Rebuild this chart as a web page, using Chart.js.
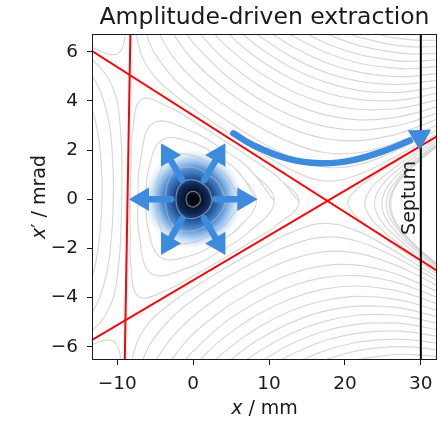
<!DOCTYPE html>
<html>
<head>
<meta charset="utf-8">
<script src="https://cdn.jsdelivr.net/npm/chart.js@4.4.1/dist/chart.umd.min.js"></script>
<style>
  html, body { margin: 0; padding: 0; background: #fff; }
</style>
</head>
<body>
<canvas id="extractionChart" width="440" height="421"></canvas>
<script>
// axis ranges and ticks
const xRange = [-13.2, 32];
const yRange = [-6.5, 6.68];
const xTicks = [-10, 0, 10, 20, 30];
const xTickLabels = ['\u221210', '0', '10', '20', '30'];
const yTicks = [-6, -4, -2, 0, 2, 4, 6];
const yTickLabels = ['\u22126', '\u22124', '\u22122', '0', '2', '4', '6'];

// separatrix (red) and septum (black)
const separatrixLeft = [[-8.26, 7], [-9.04, -7]];
const separatrixUpper = [[-14, 6.16], [33, -3.08]];
const separatrixLower = [[-14, -5.85], [33, 2.72]];
const septum = [[30, -7], [30, 7]];
const septumLabelAt = [29.2, 0.05];

// closed contours around the stable centre
const innerContours = [
  [[0.97,-0.01],[0.83,0.15],[0.48,0.27],[0.01,0.32],[-0.47,0.28],[-0.82,0.16],[-0.93,0.01],[-0.83,-0.15],[-0.50,-0.28],[-0.01,-0.32],[0.46,-0.27],[0.82,-0.16]],
  [[2.50,-0.02],[2.07,0.38],[1.17,0.65],[0.04,0.79],[-1.22,0.73],[-2.04,0.41],[-2.27,0.02],[-2.07,-0.38],[-1.28,-0.71],[-0.04,-0.79],[1.11,-0.66],[2.04,-0.41]],
  [[4.24,-0.03],[3.39,0.62],[1.87,1.03],[0.06,1.29],[-2.07,1.23],[-3.33,0.67],[-3.64,0.03],[-3.39,-0.62],[-2.18,-1.20],[-0.06,-1.29],[1.77,-1.06],[3.33,-0.67]],
  [[6.05,-0.04],[4.63,0.85],[2.50,1.38],[0.08,1.76],[-2.95,1.76],[-4.55,0.91],[-4.87,0.03],[-4.63,-0.85],[-3.10,-1.72],[-0.08,-1.76],[2.37,-1.42],[4.55,-0.91]],
  [[8.33,-0.06],[6.00,1.10],[3.17,1.75],[0.10,2.28],[-4.06,2.42],[-5.90,1.18],[-6.18,0.04],[-6.00,-1.10],[-4.27,-2.37],[-0.10,-2.28],[3.01,-1.80],[5.90,-1.18]],
  [[10.69,-0.07],[7.17,1.31],[3.71,2.06],[0.12,2.72],[-5.20,3.11],[-7.04,1.41],[-7.24,0.05],[-7.17,-1.31],[-5.48,-3.03],[-0.12,-2.72],[3.53,-2.11],[7.04,-1.41]],
  [[13.97,-0.10],[11.11,0.91],[8.30,1.52],[6.15,1.97],[4.25,2.35],[2.34,2.73],[0.14,3.15],[-2.80,3.69],[-6.81,4.06],[-7.98,2.74],[-8.16,1.63],[-8.24,0.79],[-8.28,0.06],[-8.31,-0.68],[-8.30,-1.52],[-8.22,-2.63],[-7.17,-3.97],[-3.13,-3.65],[-0.14,-3.15],[2.10,-2.76],[4.03,-2.41],[5.97,-2.05],[8.16,-1.63],[11.02,-1.06]]
];

// open contours beyond the unstable fixed point, near the septum
const wedgeContours = [
  [[33.12,2.73],[31.37,2.40],[29.61,2.07],[27.86,1.74],[26.11,1.40],[23.48,0.87],[21.73,0.46],[20.36,-0.14],[21.67,-0.76],[23.39,-1.19],[25.97,-1.76],[27.69,-2.12],[29.41,-2.48],[31.13,-2.83],[32.85,-3.18]],
  [[33.11,2.63],[31.36,2.29],[29.61,1.94],[27.86,1.57],[26.10,1.18],[24.34,0.73],[23.46,0.45],[22.61,-0.16],[23.41,-0.77],[24.26,-1.07],[25.98,-1.54],[27.70,-1.96],[29.42,-2.35],[31.13,-2.72],[32.85,-3.09]],
  [[33.11,2.55],[31.36,2.19],[29.60,1.82],[27.85,1.42],[26.09,0.96],[25.21,0.68],[24.32,0.31],[23.89,-0.17],[24.28,-0.64],[25.13,-1.03],[25.99,-1.32],[27.70,-1.80],[29.42,-2.23],[31.14,-2.62],[32.86,-3.01]],
  [[33.10,2.47],[31.35,2.10],[29.60,1.70],[27.84,1.25],[26.08,0.70],[25.19,0.27],[24.85,-0.17],[25.15,-0.62],[26.00,-1.06],[27.71,-1.64],[29.43,-2.11],[31.14,-2.53],[32.86,-2.93]],
  [[33.10,2.42],[31.35,2.03],[29.59,1.61],[27.84,1.13],[26.07,0.47],[25.71,0.24],[25.43,-0.18],[25.67,-0.60],[26.01,-0.83],[27.72,-1.51],[29.43,-2.02],[31.15,-2.46],[32.86,-2.88]],
  [[33.10,2.38],[31.35,1.98],[29.59,1.54],[27.83,1.03],[26.95,0.71],[26.06,0.21],[25.82,-0.18],[26.02,-0.57],[26.87,-1.08],[27.72,-1.42],[29.43,-1.95],[31.15,-2.41],[32.86,-2.83]],
  [[33.10,2.36],[31.35,1.95],[29.59,1.51],[27.83,0.98],[26.95,0.64],[26.32,0.28],[26.01,-0.18],[26.28,-0.65],[26.87,-1.01],[27.72,-1.36],[29.43,-1.92],[31.15,-2.38],[32.86,-2.81]]
];

// open contours above the upper separatrix
const upperContours = [
  [[-7.87,8.32],[-7.51,6.79],[-6.69,5.77],[-4.99,4.96],[-2.41,4.23],[0.16,3.64],[4.47,2.74],[8.77,1.91],[13.08,1.17],[17.40,0.74],[21.75,1.00],[26.12,1.64],[28.75,2.08],[33.12,2.84]],
  [[-6.62,7.27],[-5.79,6.40],[-4.95,5.86],[-2.39,4.85],[0.19,4.14],[4.49,3.18],[8.79,2.35],[13.10,1.68],[17.42,1.30],[21.77,1.41],[26.13,1.89],[28.76,2.27],[33.13,2.97]],
  [[-4.89,7.04],[-4.05,6.48],[-2.35,5.67],[0.22,4.82],[4.51,3.75],[8.81,2.92],[13.13,2.27],[17.45,1.89],[21.79,1.89],[26.15,2.23],[28.77,2.54],[33.14,3.16]],
  [[-3.16,7.03],[-2.31,6.58],[0.25,5.56],[4.54,4.39],[8.84,3.51],[13.15,2.85],[17.48,2.46],[21.81,2.38],[26.17,2.60],[28.78,2.85],[33.15,3.39]],
  [[-1.42,6.98],[-0.57,6.60],[0.28,6.27],[4.57,4.97],[8.87,4.05],[13.18,3.37],[17.50,2.95],[21.83,2.81],[26.18,2.95],[28.80,3.15],[33.16,3.62]],
  [[0.31,6.98],[2.02,6.34],[4.59,5.56],[8.89,4.58],[13.20,3.88],[17.52,3.42],[21.85,3.23],[26.20,3.31],[28.81,3.47],[33.17,3.87]],
  [[2.05,6.99],[2.91,6.69],[4.62,6.16],[8.91,5.12],[13.22,4.37],[17.54,3.88],[21.87,3.65],[26.21,3.67],[28.82,3.79],[33.18,4.13]],
  [[2.93,7.30],[4.65,6.73],[6.36,6.24],[8.94,5.63],[13.24,4.85],[17.56,4.32],[21.89,4.05],[26.23,4.01],[28.84,4.10],[33.19,4.39]],
  [[4.67,7.28],[6.38,6.76],[8.96,6.12],[13.26,5.30],[17.58,4.74],[21.91,4.42],[26.24,4.34],[28.85,4.40],[33.20,4.64]],
  [[6.41,7.27],[8.12,6.80],[8.98,6.59],[13.28,5.73],[17.60,5.14],[21.92,4.79],[26.26,4.67],[28.87,4.70],[33.22,4.90]],
  [[9.00,7.07],[10.72,6.67],[13.30,6.17],[17.62,5.54],[21.94,5.16],[26.27,5.00],[28.88,5.00],[33.23,5.16]],
  [[10.74,7.14],[13.32,6.61],[17.63,5.95],[21.96,5.53],[26.29,5.34],[28.89,5.31],[33.24,5.43]],
  [[13.34,7.03],[15.06,6.72],[17.65,6.33],[21.97,5.88],[26.30,5.65],[28.91,5.61],[33.25,5.69]],
  [[16.81,6.85],[19.40,6.50],[21.99,6.24],[26.32,5.98],[28.92,5.91],[33.26,5.96]],
  [[20.28,6.75],[22.00,6.58],[26.33,6.28],[28.93,6.20],[33.28,6.21]],
  [[22.02,6.90],[26.35,6.57],[28.95,6.48],[33.29,6.46]]
];

// open contours below the lower separatrix
const lowerContours = [
  [[-8.62,-8.21],[-8.12,-6.69],[-7.20,-5.68],[-5.43,-4.89],[-2.79,-4.20],[-0.16,-3.64],[4.22,-2.80],[8.59,-2.03],[12.96,-1.35],[17.32,-0.98],[21.65,-1.30],[25.96,-2.00],[28.54,-2.48],[32.84,-3.30]],
  [[-7.27,-7.17],[-6.36,-6.32],[-5.47,-5.79],[-2.82,-4.81],[-0.19,-4.14],[4.20,-3.24],[8.57,-2.47],[12.94,-1.86],[17.30,-1.54],[21.63,-1.71],[25.95,-2.25],[28.53,-2.67],[32.84,-3.43]],
  [[-5.52,-6.97],[-4.63,-6.42],[-2.86,-5.64],[-0.22,-4.82],[4.17,-3.81],[8.55,-3.04],[12.91,-2.45],[17.27,-2.13],[21.61,-2.19],[25.93,-2.59],[28.52,-2.94],[32.83,-3.62]],
  [[-3.79,-6.98],[-2.90,-6.55],[-0.25,-5.56],[4.14,-4.45],[8.52,-3.63],[12.89,-3.03],[17.24,-2.70],[21.59,-2.68],[25.91,-2.96],[28.51,-3.25],[32.82,-3.85]],
  [[-2.05,-6.96],[-1.17,-6.59],[-0.28,-6.27],[4.11,-5.03],[8.50,-4.17],[12.86,-3.55],[17.22,-3.19],[21.57,-3.11],[25.90,-3.31],[28.49,-3.55],[32.81,-4.08]],
  [[-0.31,-6.98],[1.45,-6.36],[4.09,-5.62],[8.47,-4.70],[12.84,-4.06],[17.20,-3.66],[21.55,-3.53],[25.88,-3.67],[28.48,-3.86],[32.80,-4.33]],
  [[1.42,-7.02],[2.30,-6.73],[4.06,-6.22],[8.45,-5.24],[12.82,-4.55],[17.18,-4.12],[21.53,-3.95],[25.87,-4.03],[28.46,-4.18],[32.79,-4.59]],
  [[2.27,-7.33],[4.04,-6.79],[5.79,-6.33],[8.42,-5.75],[12.80,-5.03],[17.16,-4.56],[21.51,-4.35],[25.85,-4.37],[28.45,-4.49],[32.78,-4.84]],
  [[4.01,-7.34],[5.77,-6.85],[8.40,-6.24],[12.78,-5.48],[17.14,-4.98],[21.49,-4.72],[25.84,-4.70],[28.44,-4.79],[32.76,-5.10]],
  [[5.75,-7.35],[7.50,-6.91],[8.38,-6.71],[12.76,-5.91],[17.12,-5.38],[21.48,-5.09],[25.82,-5.03],[28.42,-5.09],[32.75,-5.35]],
  [[8.36,-7.19],[10.11,-6.82],[12.74,-6.35],[17.10,-5.78],[21.46,-5.46],[25.81,-5.36],[28.41,-5.40],[32.74,-5.61]],
  [[10.09,-7.29],[12.72,-6.79],[17.09,-6.19],[21.44,-5.83],[25.79,-5.70],[28.40,-5.71],[32.73,-5.88]],
  [[12.70,-7.21],[14.45,-6.93],[17.07,-6.57],[21.43,-6.18],[25.78,-6.01],[28.38,-6.01],[32.72,-6.14]],
  [[16.18,-7.08],[18.80,-6.77],[21.41,-6.54],[25.76,-6.34],[28.37,-6.31],[32.71,-6.41]]
];

// open contours left of the vertical separatrix, and the two corner arcs
const leftContours = [
  [[-13.63,5.77],[-12.78,5.52],[-11.92,5.23],[-11.07,4.85],[-10.23,4.23],[-9.82,3.63],[-9.45,2.18],[-9.40,1.41],[-9.41,0.07],[-9.52,-1.28],[-9.64,-2.05],[-10.14,-3.49],[-10.60,-4.08],[-11.50,-4.69],[-12.38,-5.06],[-13.27,-5.34],[-14.14,-5.58]],
  [[-13.66,5.17],[-12.81,4.75],[-11.97,4.18],[-11.14,3.21],[-10.75,2.28],[-10.54,1.08],[-10.53,0.07],[-10.64,-0.94],[-10.95,-2.13],[-11.43,-3.06],[-12.34,-4.01],[-13.23,-4.57],[-14.12,-4.97]],
  [[-13.71,4.04],[-12.88,3.18],[-12.56,2.67],[-12.24,1.92],[-12.03,0.85],[-12.01,0.08],[-12.10,-0.68],[-12.41,-1.75],[-12.79,-2.49],[-13.16,-3.00],[-14.07,-3.85]],
  [[-13.61,6.23],[-11.89,5.98],[-11.02,5.89],[-10.15,5.89],[-9.72,5.97],[-9.27,6.20],[-9.00,6.54],[-8.80,6.98]],
  [[-14.17,-6.04],[-12.42,-5.81],[-11.55,-5.73],[-10.68,-5.75],[-10.25,-5.83],[-9.83,-6.07],[-9.58,-6.41],[-9.42,-6.85]]
];

// beam and the arrows
const beamCentre = [[0, 0]];
const kickStarts = [[2.89,0],[1.45,0.775],[-1.45,0.775],[-2.89,0],[-1.45,-0.775],[1.45,-0.775]];
const kickEnds = [[6.18,0],[3.09,1.656],[-3.09,1.656],[-6.18,0],[-3.09,-1.656],[3.09,-1.656]];
const kickHeads = [[6.71,0],[3.36,1.797],[-3.36,1.797],[-6.71,0],[-3.36,-1.797],[3.36,-1.797]];
const kickHeadAngles = [90, 30, -30, -90, -150, 150];
const extractionPath = [[5.30,2.68],[7.89,2.20],[12.33,1.66],[16.71,1.46],[21.05,1.59],[25.49,2.00],[28.55,2.39]];
const extractionHead = [[29.83, 2.54]];
const extractionHeadAngles = [59];

const FONT = '"DejaVu Sans", sans-serif';
const CONTOUR = 'rgba(190,190,190,0.6)';
const BLUE = '#3d8bdc';
const INK = '#1a1a1a';

function pt(p) { return {x: p[0], y: p[1]}; }

function contourDatasets(lines, closed) {
    return lines.map(function(line) {
        const pts = closed ? line.concat(line.slice(0, 2)) : line;
        return {
            data: pts.map(pt),
            showLine: true,
            borderColor: CONTOUR,
            borderWidth: 1.2,
            pointRadius: 0,
            tension: 0.4,
            clip: 0,
            order: 5
        };
    });
}

function straightLine(points, color, width, order) {
    return {
        data: points.map(pt),
        showLine: true,
        borderColor: color,
        borderWidth: width,
        pointRadius: 0,
        clip: 0,
        order: order
    };
}

function beamGradient(context) {
    const chart = context.chart;
    const sx = chart.scales.x, sy = chart.scales.y;
    if (!chart.chartArea || !sx || !sy) return 'rgba(20,60,120,0.8)';
    const cx = sx.getPixelForValue(beamCentre[0][0]);
    const cy = sy.getPixelForValue(beamCentre[0][1]);
    if (!isFinite(cx) || !isFinite(cy)) return 'rgba(20,60,120,0.8)';
    const g = chart.ctx.createRadialGradient(cx, cy, 0, cx, cy, 50);
    g.addColorStop(0, 'rgba(0,0,0,1)');
    g.addColorStop(0.14, 'rgba(6,16,32,1)');
    g.addColorStop(0.3, 'rgba(14,40,85,1)');
    g.addColorStop(0.45, 'rgba(28,85,160,0.95)');
    g.addColorStop(0.62, 'rgba(55,125,205,0.85)');
    g.addColorStop(0.78, 'rgba(105,165,230,0.55)');
    g.addColorStop(0.9, 'rgba(160,200,240,0.28)');
    g.addColorStop(1, 'rgba(210,230,250,0)');
    return g;
}

const datasets = [];

// arrows on top
kickStarts.forEach(function(s, i) {
    datasets.push({
        data: [pt(s), pt(kickEnds[i])],
        showLine: true, borderColor: BLUE, borderWidth: 6.5, borderCapStyle: 'round',
        pointRadius: 0, order: 0
    });
});
datasets.push({
    data: kickHeads.map(pt), showLine: false,
    pointStyle: 'triangle', pointRadius: 13.5, pointRotation: kickHeadAngles,
    pointBackgroundColor: BLUE, pointBorderWidth: 0, order: 0
});
datasets.push({
    data: extractionPath.map(pt),
    showLine: true, borderColor: BLUE, borderWidth: 6.5, borderCapStyle: 'round',
    tension: 0.4, pointRadius: 0, order: 0
});
datasets.push({
    data: extractionHead.map(pt), showLine: false,
    pointStyle: 'triangle', pointRadius: 13.5, pointRotation: extractionHeadAngles,
    pointBackgroundColor: BLUE, pointBorderWidth: 0, order: 0
});

datasets.push(straightLine(septum, '#000', 2, 1));
datasets.push(straightLine(separatrixLeft, '#ff0000', 2, 2));
datasets.push(straightLine(separatrixUpper, '#ff0000', 2, 2));
datasets.push(straightLine(separatrixLower, '#ff0000', 2, 2));

contourDatasets(innerContours, true).forEach(d => datasets.push(d));
contourDatasets(wedgeContours, false).forEach(d => datasets.push(d));
contourDatasets(upperContours, false).forEach(d => datasets.push(d));
contourDatasets(lowerContours, false).forEach(d => datasets.push(d));
contourDatasets(leftContours, false).forEach(d => datasets.push(d));

datasets.push({
    data: beamCentre.map(pt), showLine: false,
    pointRadius: 50, pointBackgroundColor: beamGradient, pointBorderWidth: 0, order: 6
});

function drawMathLabel(ctx, italicPart, rest, cx, cy, angle, size) {
    ctx.save();
    ctx.translate(cx, cy);
    ctx.rotate(angle);
    const italic = 'italic ' + size + 'px ' + FONT;
    const regular = size + 'px ' + FONT;
    ctx.font = italic;
    const w1 = ctx.measureText(italicPart).width;
    ctx.font = regular;
    const w2 = ctx.measureText(rest).width;
    const x0 = -(w1 + w2) / 2;
    ctx.textAlign = 'left';
    ctx.textBaseline = 'alphabetic';
    ctx.fillStyle = INK;
    ctx.font = italic;
    ctx.fillText(italicPart, x0, 0);
    ctx.font = regular;
    ctx.fillText(rest, x0 + w1, 0);
    ctx.restore();
}

const annotate = {
    id: 'annotate',
    afterDatasetsDraw(chart) {
        const ctx = chart.ctx, a = chart.chartArea;
        const sx = chart.scales.x, sy = chart.scales.y;
        ctx.save();
        ctx.fillStyle = INK;
        ctx.font = '19px ' + FONT;
        ctx.translate(sx.getPixelForValue(septumLabelAt[0]), sy.getPixelForValue(septumLabelAt[1]));
        ctx.rotate(-Math.PI / 2);
        ctx.textAlign = 'center';
        ctx.textBaseline = 'alphabetic';
        ctx.fillText('Septum', 0, 0);
        ctx.restore();

        ctx.save();
        ctx.strokeStyle = INK;
        ctx.lineWidth = 1;
        ctx.strokeRect(a.left - 0.5, a.top - 0.5, a.right - a.left + 1, a.bottom - a.top + 1);
        ctx.restore();
    },
    afterDraw(chart) {
        const ctx = chart.ctx, a = chart.chartArea;
        const mid = (a.left + a.right) / 2;
        ctx.save();
        ctx.fillStyle = INK;
        ctx.font = '23.5px ' + FONT;
        ctx.textAlign = 'center';
        ctx.textBaseline = 'alphabetic';
        ctx.fillText('Amplitude-driven extraction', mid, 24);
        ctx.restore();
        drawMathLabel(ctx, 'x', ' / mm', mid, 414, 0, 19);
        drawMathLabel(ctx, 'x', '\u2032 / mrad', 45, (a.top + a.bottom) / 2, -Math.PI / 2, 19);
    }
};

const tickFont = {family: FONT, size: 18.5};

const config = {
    type: 'scatter',
    data: {datasets: datasets},
    options: {
        responsive: false,
        animation: false,
        devicePixelRatio: 1,
        events: [],
        layout: {autoPadding: false, padding: {left: 0, right: 4, top: 35, bottom: 0}},
        elements: {line: {capBezierPoints: false}},
        plugins: {legend: {display: false}, title: {display: false}, tooltip: {enabled: false}},
        scales: {
            x: {
                type: 'linear', min: xRange[0], max: xRange[1],
                afterBuildTicks: s => { s.ticks = xTicks.map(v => ({value: v})); },
                afterFit: s => { s.height = 62; s.paddingLeft = 0; s.paddingRight = 0; },
                ticks: {font: tickFont, color: INK, padding: 8, maxRotation: 0,
                        callback: (v, i) => xTickLabels[xTicks.indexOf(v)]},
                grid: {drawOnChartArea: false, drawTicks: true, tickLength: 6, color: INK},
                border: {display: false}
            },
            y: {
                type: 'linear', min: yRange[0], max: yRange[1],
                afterBuildTicks: s => { s.ticks = yTicks.map(v => ({value: v})); },
                afterFit: s => { s.width = 93; s.paddingTop = 0; s.paddingBottom = 0; },
                ticks: {font: tickFont, color: INK, padding: 9,
                        callback: (v, i) => yTickLabels[yTicks.indexOf(v)]},
                grid: {drawOnChartArea: false, drawTicks: true, tickLength: 6, color: INK},
                border: {display: false}
            }
        }
    },
    plugins: [annotate]
};

const extractionChart = new Chart(document.getElementById('extractionChart'), config);
</script>
</body>
</html>
